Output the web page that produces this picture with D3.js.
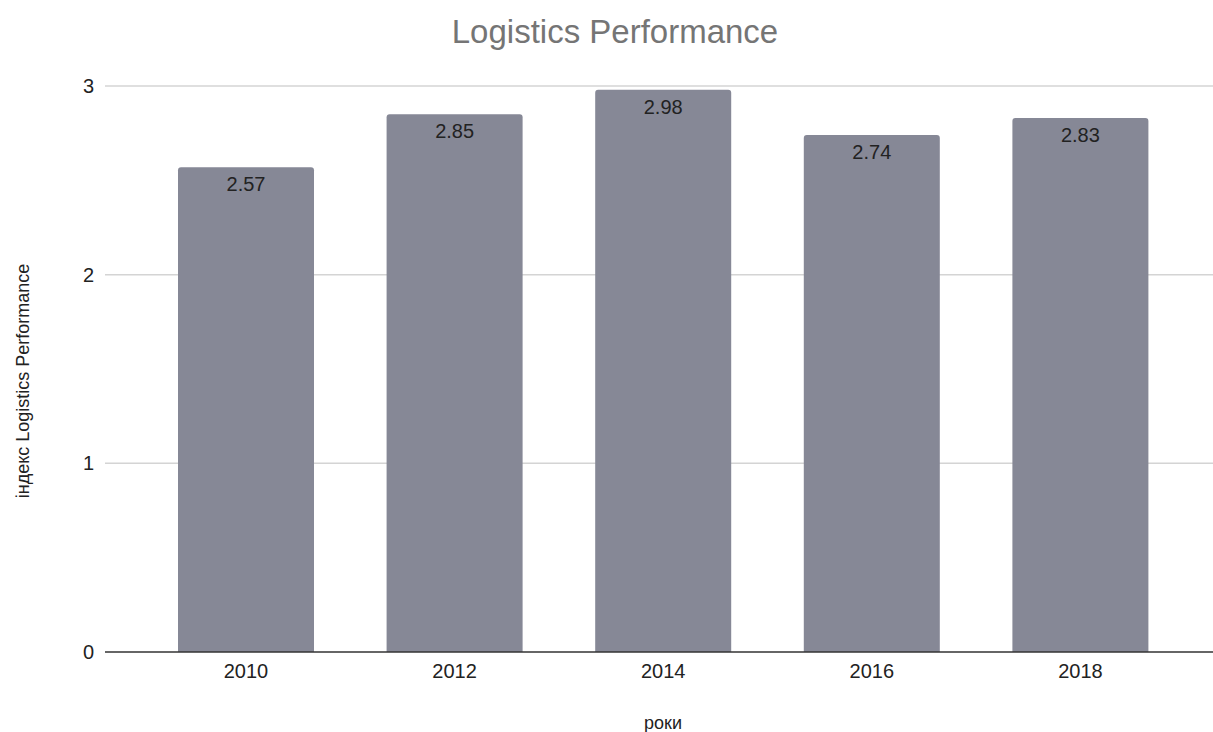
<!DOCTYPE html>
<html>
<head>
<meta charset="utf-8">
<script src="https://cdn.jsdelivr.net/npm/d3@7"></script>
<style>
  html, body { margin: 0; padding: 0; background: #fff; }
  svg { display: block; font-family: "Liberation Sans", Arial, sans-serif; }
</style>
</head>
<body>
<svg id="chart" width="1213" height="732"></svg>
<script>
// Logistics Performance index by year
const years = ["2010", "2012", "2014", "2016", "2018"];
const values = [2.57, 2.85, 2.98, 2.74, 2.83];
const yTicks = [0, 1, 2, 3];

const chartTitle = "Logistics Performance";
const xTitle = "роки";
const yTitle = "індекс Logistics Performance";

const FONT = "'Liberation Sans', Arial, sans-serif";
const plot = { left: 105, right: 1213, top: 86, bottom: 652 };

const svg = d3.select("#chart");

const x = d3.scaleBand()
  .domain(years)
  .range([141.7, 1184.7])
  .paddingInner(0.348)
  .paddingOuter(0.174);

const y = d3.scaleLinear()
  .domain([0, 3])
  .range([plot.bottom, plot.top]);

// gridlines
svg.append("g")
  .selectAll("line")
  .data(yTicks.filter(d => d !== 0))
  .join("line")
  .attr("x1", plot.left)
  .attr("x2", plot.right)
  .attr("y1", d => y(d))
  .attr("y2", d => y(d))
  .attr("stroke", "#d4d4d4")
  .attr("stroke-width", 1.5);

// y tick labels
const yAxis = d3.axisLeft(y).tickValues(yTicks).tickSize(0).tickPadding(11).tickFormat(d3.format("d"));
const gy = svg.append("g").attr("transform", `translate(${plot.left},0)`).call(yAxis);
gy.select(".domain").remove();
gy.selectAll("text")
  .attr("font-size", 20)
  .attr("fill", "#222")
  .attr("font-family", FONT);

// bars with lightly rounded tops
const r = 3;
svg.append("g")
  .selectAll("path")
  .data(years.map((yr, i) => ({ yr, v: values[i] })))
  .join("path")
  .attr("fill", "#868896")
  .attr("d", d => {
    const x0 = x(d.yr), x1 = x0 + x.bandwidth();
    const top = y(d.v), bot = y(0);
    return `M${x0},${bot}V${top + r}Q${x0},${top} ${x0 + r},${top}H${x1 - r}Q${x1},${top} ${x1},${top + r}V${bot}Z`;
  });

// value labels inside bars
svg.append("g")
  .selectAll("text")
  .data(years.map((yr, i) => ({ yr, v: values[i] })))
  .join("text")
  .attr("x", d => x(d.yr) + x.bandwidth() / 2)
  .attr("y", d => y(d.v) + 24)
  .attr("text-anchor", "middle")
  .attr("font-size", 20)
  .attr("fill", "#222")
  .attr("font-family", FONT)
  .text(d => d3.format(".2f")(d.v));

// baseline
svg.append("line")
  .attr("x1", plot.left)
  .attr("x2", plot.right)
  .attr("y1", y(0))
  .attr("y2", y(0))
  .attr("stroke", "#333")
  .attr("stroke-width", 1.5);

// x tick labels
const xAxis = d3.axisBottom(x).tickSize(0).tickPadding(12);
const gx = svg.append("g").attr("transform", `translate(0,${y(0)})`).call(xAxis);
gx.select(".domain").remove();
gx.selectAll("text")
  .attr("font-size", 20)
  .attr("fill", "#222")
  .attr("font-family", FONT);

// title
svg.append("text")
  .attr("x", 615)
  .attr("y", 43)
  .attr("text-anchor", "middle")
  .attr("font-size", 33)
  .attr("fill", "#757575")
  .attr("font-family", FONT)
  .text(chartTitle);

// axis titles
svg.append("text")
  .attr("x", 663)
  .attr("y", 729)
  .attr("text-anchor", "middle")
  .attr("font-size", 18)
  .attr("fill", "#222")
  .attr("font-family", FONT)
  .text(xTitle);

svg.append("text")
  .attr("transform", "translate(29,381) rotate(-90)")
  .attr("text-anchor", "middle")
  .attr("font-size", 18)
  .attr("fill", "#222")
  .attr("font-family", FONT)
  .text(yTitle);
</script>
</body>
</html>
